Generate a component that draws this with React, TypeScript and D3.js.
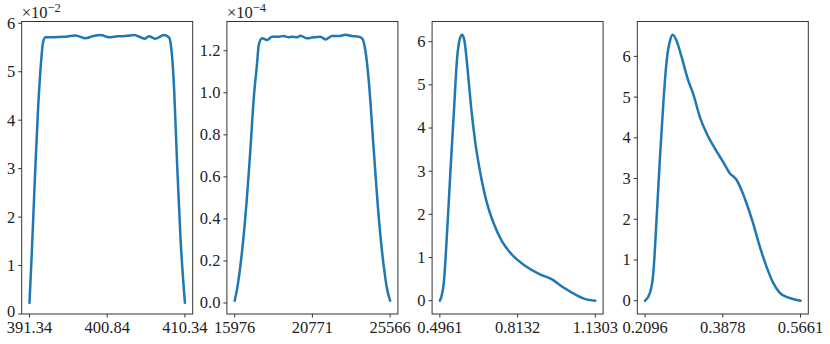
import React from "react";
import * as d3 from "d3";

// panel 1: wavelength band (values shown in units of 1e-2)
const x1 = [391.34, 391.6, 392.04, 392.38, 392.77, 392.99, 393.3, 394.31, 395.54, 396.97, 398.19, 399.01, 400.03, 401.05, 402.07, 403.3, 404.11, 404.93, 405.42, 405.94, 406.76, 407.78, 408.39, 408.6, 408.81, 409.03, 409.42, 409.82, 410.34];
const y1 = [0.23, 1.17, 2.95, 4.2, 5.23, 5.6, 5.71, 5.71, 5.72, 5.75, 5.69, 5.73, 5.76, 5.71, 5.73, 5.74, 5.76, 5.71, 5.68, 5.73, 5.68, 5.76, 5.71, 5.58, 5.23, 4.6, 2.95, 1.5, 0.23];

// panel 2: (values shown in units of 1e-4)
const x2 = [15976, 16124, 16328, 16636, 16945, 17149, 17358, 17457, 17667, 17975, 18284, 18691, 18999, 19308, 19518, 19827, 20030, 20444, 20851, 21265, 21573, 21987, 22394, 22807, 23221, 23628, 23838, 24042, 24245, 24554, 24862, 25171, 25381, 25566];
const y2 = [0.011, 0.066, 0.177, 0.41, 0.73, 0.97, 1.14, 1.225, 1.259, 1.251, 1.267, 1.267, 1.27, 1.264, 1.267, 1.264, 1.272, 1.259, 1.264, 1.267, 1.254, 1.27, 1.27, 1.276, 1.27, 1.267, 1.259, 1.2, 1.06, 0.73, 0.41, 0.177, 0.066, 0.011];

// panel 3
const x3 = [0.4961, 0.5018, 0.5123, 0.5261, 0.5395, 0.5529, 0.5667, 0.5772, 0.5869, 0.5963, 0.6096, 0.6234, 0.6409, 0.6611, 0.6883, 0.7151, 0.7491, 0.7897, 0.8436, 0.9044, 0.9519, 0.9989, 1.0533, 1.0938, 1.1303];
const y3 = [0, 0.08, 0.42, 1.65, 3.03, 4.34, 5.64, 6.06, 6.16, 6.02, 5.33, 4.49, 3.65, 2.96, 2.26, 1.8, 1.38, 1.07, 0.81, 0.61, 0.5, 0.31, 0.13, 0.03, 0.0];

// panel 4
const x4 = [0.2096, 0.221, 0.2286, 0.2363, 0.2439, 0.2514, 0.2592, 0.2667, 0.2729, 0.282, 0.2935, 0.3085, 0.32, 0.3353, 0.3506, 0.3696, 0.3885, 0.4038, 0.4192, 0.4306, 0.442, 0.4571, 0.4724, 0.4877, 0.5028, 0.5181, 0.5371, 0.5524, 0.5661];
const y4 = [0, 0.2, 0.69, 2.07, 3.54, 4.84, 5.9, 6.38, 6.53, 6.38, 5.98, 5.41, 5.08, 4.51, 4.11, 3.74, 3.41, 3.13, 2.97, 2.72, 2.4, 1.91, 1.34, 0.85, 0.45, 0.2, 0.08, 0.03, 0];

const xTickLabels1 = ["391.34", "400.84", "410.34"];
const xTickLabels2 = ["15976", "20771", "25566"];
const xTickLabels3 = ["0.4961", "0.8132", "1.1303"];
const xTickLabels4 = ["0.2096", "0.3878", "0.5661"];

const yTicksInt = [0, 1, 2, 3, 4, 5, 6];
const yTicksDec = [0, 0.2, 0.4, 0.6, 0.8, 1.0, 1.2];

const panels = [
  { xs: x1, ys: y1, xLabels: xTickLabels1, yTicks: yTicksInt, fmt: d3.format("d"), exp: "\u22122", floor0: true },
  { xs: x2, ys: y2, xLabels: xTickLabels2, yTicks: yTicksDec, fmt: d3.format(".1f"), exp: "\u22124", floor0: false },
  { xs: x3, ys: y3, xLabels: xTickLabels3, yTicks: yTicksInt, fmt: d3.format("d"), exp: null, floor0: false },
  { xs: x4, ys: y4, xLabels: xTickLabels4, yTicks: yTicksInt, fmt: d3.format("d"), exp: null, floor0: false },
];

const W = 830, H = 344;
const FONT = "'Liberation Serif', serif";
const top = 21.5, bottom = 314;
const left0 = 21.7, step = 205.2, pw = 171;
const FS = 16.5;

function pad(ext: [number, number], floor0: boolean): [number, number] {
  const m = (ext[1] - ext[0]) * 0.05;
  return [floor0 ? 0 : ext[0] - m, ext[1] + m];
}

function Panel({ p, i }: { p: any; i: number }) {
  const L = left0 + i * step;
  const x = d3.scaleLinear().domain(pad(d3.extent(p.xs) as [number, number], false)).range([L, L + pw]);
  const y = d3.scaleLinear().domain(pad(d3.extent(p.ys) as [number, number], p.floor0)).range([bottom, top]);
  const line = d3.line<number>().x((d, k) => x(p.xs[k])).y(d => y(d)).curve(d3.curveMonotoneX);
  const xs = p.xLabels.map(Number);
  return (
    <g>
      <path d={line(p.ys) || ""} fill="none" stroke="#1f77b4" strokeWidth={2.5} strokeLinejoin="round" strokeLinecap="round" />
      <rect x={L} y={top} width={pw} height={bottom - top} fill="none" stroke="#333" strokeWidth={1} />
      {xs.map((v: number, k: number) => (
        <g key={"x" + k}>
          <line x1={x(v)} x2={x(v)} y1={bottom} y2={bottom + 3.5} stroke="#333" />
          <text x={x(v)} y={333} textAnchor="middle" fontSize={FS} fill="#222">{p.xLabels[k]}</text>
        </g>
      ))}
      {p.yTicks.map((v: number, k: number) => (
        <g key={"y" + k}>
          <line x1={L - 3.5} x2={L} y1={y(v)} y2={y(v)} stroke="#333" />
          <text x={L - 6.5} y={y(v) - (p.floor0 && v === 0 ? 2.5 : 0)} dy="0.33em" textAnchor="end" fontSize={FS} fill="#222">{p.fmt(v)}</text>
        </g>
      ))}
      {p.exp && (
        <text x={L} y={17.5} fontSize={FS} fill="#222">
          {"\u00d710"}
          <tspan dy={-6} fontSize={12.5}>{p.exp}</tspan>
        </text>
      )}
    </g>
  );
}

export default function App() {
  return (
    <div style={{ position: "absolute", left: 0, top: 0 }}>
      <svg width={W} height={H} style={{ display: "block", background: "#fff", fontFamily: FONT }}>
        {panels.map((p, i) => <Panel key={i} p={p} i={i} />)}
      </svg>
    </div>
  );
}
